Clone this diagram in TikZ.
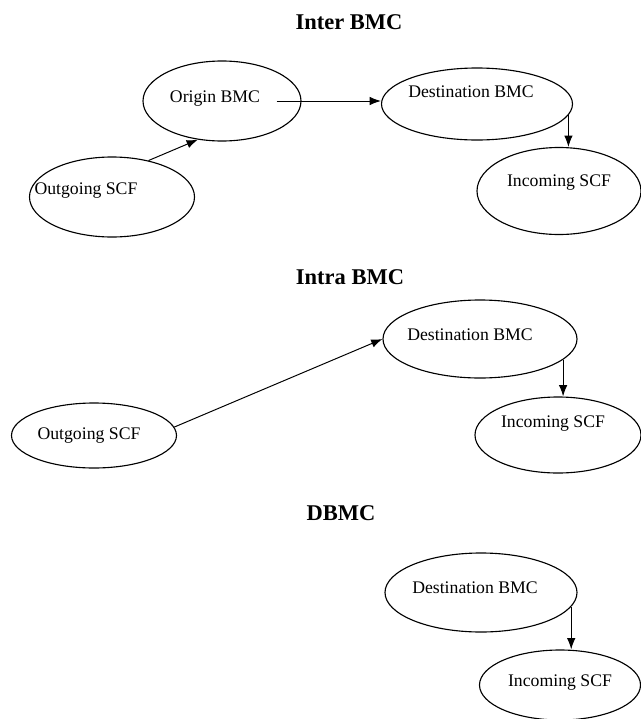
\documentclass[tikz,border=0pt]{standalone}
\usepackage{fontspec}
\setmainfont{Liberation Serif}
\usetikzlibrary{shapes.geometric,arrows.meta}

% moves the text inside an ellipse: #1 = twice the horizontal shift, #2 = lift
\newcommand{\nudge}[3]{\raisebox{#2}[\height][\depth]{\hspace*{#1}#3}}

\tikzset{
  bubble/.style={draw, ellipse, line width=0.8pt, inner sep=0pt, font=\fontsize{12.6}{15}\selectfont},
  heading/.style={font=\bfseries\fontsize{16}{19}\selectfont},
  link/.style={-{Latex[length=8pt,width=6pt]}, line width=0.7pt}
}

\begin{document}
\begin{tikzpicture}
    \useasboundingbox (0,0) rectangle (16.025,-17.975);

    % Inter BMC
    \node[heading] (tinter) at (8.725,-0.55) {Inter BMC};
    \node[bubble, minimum width=3.95cm, minimum height=2cm] (origin1) at (5.55,-2.525) {\nudge{-0.35cm}{2pt}{Origin BMC}};
    \node[bubble, minimum width=4.775cm, minimum height=1.8cm] (dest1) at (11.925,-2.6) {\nudge{-0.3cm}{8.5pt}{Destination BMC}};
    \node[bubble, minimum width=4.1cm, minimum height=2.175cm] (in1) at (13.975,-4.775) {\nudge{0cm}{5.7pt}{Incoming SCF}};
    \node[bubble, minimum width=4.125cm, minimum height=2cm] (out1) at (2.8,-4.925) {\nudge{-1.3cm}{4.3pt}{Outgoing SCF}};

    \draw[link] (out1.45) -- (origin1.-122);
    \draw[link] ([xshift=-0.625cm]origin1.east) -- (dest1.west |- origin1.east);
    \draw[link] (dest1.-7.6) -- (dest1.-7.6 |- in1.north);

    % Intra BMC
    \node[heading] (tintra) at (8.75,-6.925) {Intra BMC};
    \node[bubble, minimum width=4.125cm, minimum height=1.625cm] (out2) at (2.35,-10.8875) {\nudge{-0.25cm}{0pt}{Outgoing SCF}};
    \node[bubble, minimum width=4.85cm, minimum height=1.95cm] (dest2) at (12,-8.475) {\nudge{-0.5cm}{2.8pt}{Destination BMC}};
    \node[bubble, minimum width=4.15cm, minimum height=1.9cm] (in2) at (13.95,-10.875) {\nudge{-0.25cm}{8.5pt}{Incoming SCF}};

    \draw[link] (out2.6) -- (dest2.west);
    \draw[link] (dest2.-14) -- (dest2.-14 |- in2.north);

    % DBMC
    \node[heading] (tdbmc) at (8.525,-12.825) {DBMC};
    \node[bubble, minimum width=4.8cm, minimum height=1.975cm] (dest3) at (12.025,-14.8125) {\nudge{-0.3cm}{3.6pt}{Destination BMC}};
    \node[bubble, minimum width=4.025cm, minimum height=1.75cm] (in3) at (14,-17.125) {\nudge{0cm}{1.4pt}{Incoming SCF}};

    \draw[link] (dest3.-9.5) -- (dest3.-9.5 |- in3.north);
\end{tikzpicture}
\end{document}
